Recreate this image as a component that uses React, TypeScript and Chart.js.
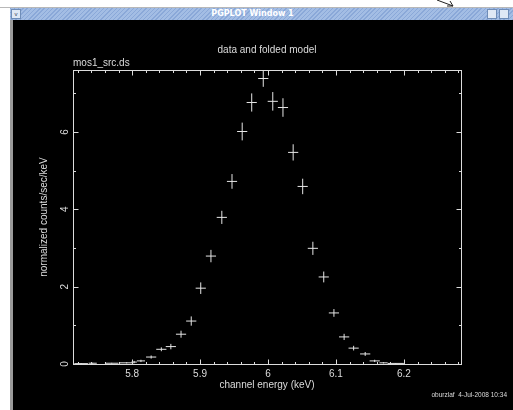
import React, { useEffect, useRef } from "react";
import { Chart, registerables } from "chart.js";

Chart.register(...registerables);

// ---- data ----
const energyKeV = [
  5.725, 5.742, 5.770, 5.792, 5.803, 5.813,
  5.828, 5.843, 5.857, 5.872, 5.887, 5.901, 5.916, 5.932, 5.947, 5.962,
  5.976, 5.993, 6.007, 6.022, 6.037, 6.051, 6.066, 6.082, 6.097, 6.112,
  6.126, 6.143, 6.157, 6.170, 6.188,
];
const binHalfWidth = [
  0.010, 0.006, 0.010, 0.010, 0.004, 0.006,
  0.0075, 0.0075, 0.0075, 0.0075, 0.0075, 0.0075, 0.0075, 0.0075, 0.0075, 0.0075,
  0.0075, 0.0075, 0.0075, 0.0075, 0.0075, 0.0075, 0.0075, 0.0075, 0.0075, 0.0075,
  0.0075, 0.0075, 0.0075, 0.006, 0.012,
];
const countsPerKeV = [
  0.01, 0.02, 0.02, 0.03, 0.05, 0.08,
  0.18, 0.38, 0.45, 0.77, 1.11, 1.96, 2.79, 3.79, 4.72, 6.01,
  6.76, 7.38, 6.79, 6.63, 5.47, 4.59, 2.99, 2.25, 1.32, 0.70,
  0.41, 0.26, 0.08, 0.03, 0.015,
];
const countsError = [
  0.01, 0.01, 0.01, 0.015, 0.03, 0.03,
  0.04, 0.05, 0.07, 0.09, 0.12, 0.15, 0.16, 0.17, 0.19, 0.23,
  0.235, 0.215, 0.24, 0.24, 0.21, 0.2, 0.17, 0.14, 0.1, 0.08,
  0.06, 0.05, 0.03, 0.015, 0.01,
];

const xMajorTicks = [5.8, 5.9, 6.0, 6.1, 6.2];
const xTickLabels = ["5.8", "5.9", "6", "6.1", "6.2"];
const yMajorTicks = [0, 2, 4, 6];
const yTickLabels = ["0", "2", "4", "6"];

const plotTitle = "data and folded model";
const dataName = "mos1_src.ds";
const xAxisTitle = "channel energy (keV)";
const yAxisTitle = "normalized counts/sec/keV";
const footerText = "oburzlaf  4-Jul-2008 10:34";

const xRange = [5.713, 6.284];
const yRange = [0, 7.6];

const FG = "#dcdcdc";
const FONT = "'Liberation Sans', Arial, sans-serif";

const pgplotFrame = {
  id: "pgplotFrame",
  afterDraw(chart: any) {
    const { ctx, chartArea } = chart;
    const xs = chart.scales.x;
    const ys = chart.scales.y;
    const L = Math.round(chartArea.left) + 0.5;
    const R = Math.round(chartArea.right) + 0.5;
    const T = Math.round(chartArea.top) + 0.5;
    const B = Math.round(chartArea.bottom) + 0.5;
    ctx.save();
    ctx.strokeStyle = FG;
    ctx.lineWidth = 1;
    ctx.strokeRect(L, T, R - L, B - T);

    const major = 5;
    const minor = 2.5;
    ctx.beginPath();
    // x ticks (minor every 0.02, major every 0.1)
    for (let k = Math.ceil(xRange[0] / 0.02); k * 0.02 <= xRange[1]; k++) {
      const v = k * 0.02;
      const isMajor = k % 5 === 0;
      const len = isMajor ? major : minor;
      const px = Math.round(xs.getPixelForValue(v)) + 0.5;
      ctx.moveTo(px, B);
      ctx.lineTo(px, B - len);
      ctx.moveTo(px, T);
      ctx.lineTo(px, T + len);
    }
    // y ticks (minor every 1, major every 2)
    for (let v = 0; v <= yRange[1]; v += 1) {
      const len = v % 2 === 0 ? major : minor;
      const py = Math.round(ys.getPixelForValue(v)) + 0.5;
      ctx.moveTo(L, py);
      ctx.lineTo(L + len, py);
      ctx.moveTo(R, py);
      ctx.lineTo(R - len, py);
    }
    ctx.stroke();

    ctx.fillStyle = FG;
    ctx.font = `10px ${FONT}`;
    ctx.textBaseline = "middle";

    // x tick labels
    ctx.textAlign = "center";
    xMajorTicks.forEach((v, i) => {
      ctx.fillText(xTickLabels[i], xs.getPixelForValue(v), chartArea.bottom + 10);
    });
    // y tick labels, rotated
    yMajorTicks.forEach((v, i) => {
      ctx.save();
      ctx.translate(chartArea.left - 8, ys.getPixelForValue(v));
      ctx.rotate(-Math.PI / 2);
      ctx.fillText(yTickLabels[i], 0, 0);
      ctx.restore();
    });

    // axis titles
    const cx = (chartArea.left + chartArea.right) / 2;
    const cy = (chartArea.top + chartArea.bottom) / 2;
    ctx.fillText(xAxisTitle, cx, chartArea.bottom + 21);
    ctx.save();
    ctx.translate(chartArea.left - 29, cy);
    ctx.rotate(-Math.PI / 2);
    ctx.fillText(yAxisTitle, 0, 0);
    ctx.restore();

    // titles
    ctx.fillText(plotTitle, cx, chartArea.top - 20);
    ctx.textAlign = "left";
    ctx.fillText(dataName, chartArea.left, chartArea.top - 7);

    // footer
    ctx.font = `6.5px ${FONT}`;
    ctx.textAlign = "right";
    ctx.fillText(footerText, chart.width - 6, chartArea.bottom + 31);
    ctx.restore();
  },
};

export default function App() {
  const canvasRef = useRef<HTMLCanvasElement | null>(null);

  useEffect(() => {
    if (!canvasRef.current) return;
    const crossPoints: { x: number; y: number | null }[] = [];
    energyKeV.forEach((x, i) => {
      const y = countsPerKeV[i];
      const dx = binHalfWidth[i];
      const dy = countsError[i];
      crossPoints.push({ x: x - dx, y }, { x: x + dx, y }, { x, y: null });
      crossPoints.push({ x, y: y - dy }, { x, y: y + dy }, { x, y: null });
    });

    const chart = new Chart(canvasRef.current, {
      type: "scatter",
      data: {
        datasets: [
          {
            label: dataName,
            data: crossPoints as any,
            showLine: true,
            spanGaps: false,
            borderColor: "#e6e6e6",
            borderWidth: 1,
            pointRadius: 0,
            pointHoverRadius: 0,
          },
        ],
      },
      options: {
        animation: false,
        responsive: false,
        devicePixelRatio: 1,
        layout: { padding: { left: 60, top: 50, right: 52, bottom: 46 } },
        plugins: {
          legend: { display: false },
          tooltip: { enabled: false },
          title: { display: false },
        },
        scales: {
          x: { type: "linear", display: false, min: xRange[0], max: xRange[1] },
          y: { type: "linear", display: false, min: yRange[0], max: yRange[1] },
        },
      },
      plugins: [pgplotFrame],
    });
    return () => chart.destroy();
  }, []);

  return (
    <div
      style={{
        position: "fixed",
        left: 0,
        top: 0,
        width: 513,
        height: 410,
        background: "#ffffff",
        overflow: "hidden",
        fontFamily: FONT,
      }}
    >
      <svg width={513} height={9} style={{ position: "absolute", left: 0, top: 0 }}>
        <line x1={0} y1={7.5} x2={513} y2={7.5} stroke="#b8b8b8" strokeWidth={1} />
        <line x1={437} y1={0} x2={453} y2={6} stroke="#222" strokeWidth={1} />
        <line x1={453} y1={6} x2={447} y2={6} stroke="#222" strokeWidth={1} />
        <line x1={453} y1={6} x2={450} y2={1} stroke="#222" strokeWidth={1} />
      </svg>
      <div
        style={{
          position: "absolute",
          left: 10,
          top: 8,
          width: 503,
          height: 12,
          background:
            "repeating-linear-gradient(135deg, #8aa8d8 0px, #8aa8d8 1px, #a3bde4 1px, #a3bde4 3px)",
        }}
      >
        <div
          style={{
            position: "absolute",
            left: 1,
            top: 1,
            width: 8,
            height: 8,
            border: "1px solid #6f8db8",
            background: "#dfe8f5",
            fontSize: 6,
            lineHeight: "8px",
            textAlign: "center",
            color: "#345",
          }}
        >
          v
        </div>
        <div
          style={{
            position: "absolute",
            left: 0,
            top: 0,
            width: 503,
            height: 12,
            lineHeight: "12px",
            textAlign: "center",
            color: "#ffffff",
            fontSize: 8,
            fontWeight: "bold",
            fontFamily: "'DejaVu Sans', sans-serif",
            paddingRight: 18,
            boxSizing: "border-box",
          }}
        >
          PGPLOT Window 1
        </div>
        <div
          style={{
            position: "absolute",
            left: 477,
            top: 1,
            width: 8,
            height: 8,
            border: "1px solid #6f8db8",
            background: "#dfe8f5",
          }}
        />
        <div
          style={{
            position: "absolute",
            left: 489,
            top: 1,
            width: 8,
            height: 8,
            border: "1px solid #6f8db8",
            background: "#dfe8f5",
          }}
        />
      </div>
      <div
        style={{
          position: "absolute",
          left: 10,
          top: 20,
          width: 3,
          height: 390,
          background: "#9a9a9a",
        }}
      />
      <div
        style={{
          position: "absolute",
          left: 13,
          top: 20,
          width: 500,
          height: 390,
          background: "#000000",
        }}
      >
        <canvas ref={canvasRef} width={500} height={390} style={{ width: 500, height: 390, display: "block" }} />
      </div>
    </div>
  );
}
